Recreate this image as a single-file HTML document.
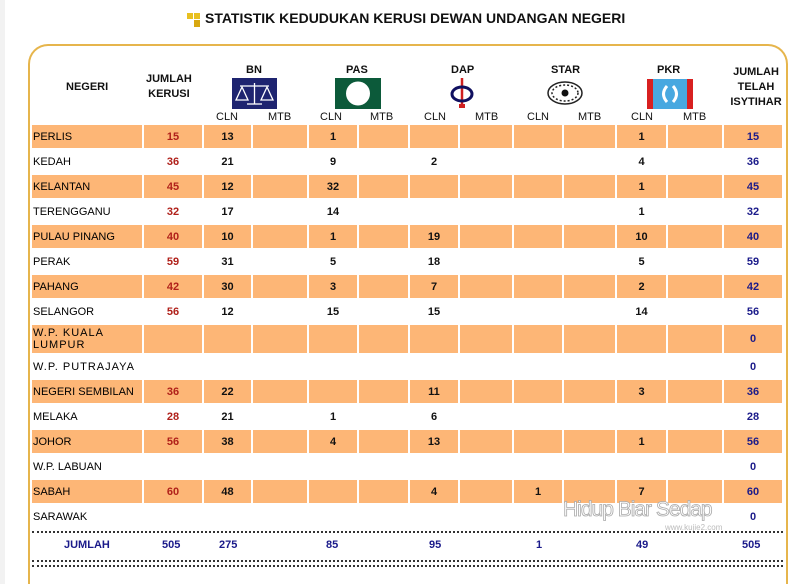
<!DOCTYPE html>
<html style="overflow:hidden;width:800px;height:584px"><head><meta charset="utf-8"><style>
html,body{margin:0;width:800px;height:584px;overflow:hidden;}
body{background:#fff;position:relative;font-family:"Liberation Sans",Arial,sans-serif;}
.box{position:absolute;left:28px;top:44px;width:756px;height:538px;border:2px solid #E6B54C;border-bottom:none;border-radius:20px 20px 0 0;}
.title{position:absolute;left:205px;top:10px;font-size:14px;font-weight:bold;color:#111;}
.h{position:absolute;font-size:11px;font-weight:bold;color:#111;text-align:center;line-height:15px;}
.s{position:absolute;font-size:11px;color:#111;top:111px;}
table{position:absolute;left:30px;top:123px;border-collapse:separate;border-spacing:2px 2px;table-layout:fixed;}
td{height:23px;padding:0;font-size:11px;font-weight:bold;text-align:center;color:#111;line-height:12px;}
td:first-child{text-align:left;padding-left:1px;font-weight:normal;color:#000;}
tr.o td{background:#FDB676;}
td.r{color:#B0201A;}
td.b{color:#1A1A8A;}
.dot{position:absolute;left:32px;width:751px;height:0;border-top:2px dotted #333;}
.tot{position:absolute;top:539px;font-size:11px;font-weight:bold;color:#1A1A8A;}
</style></head><body>
<div style="position:absolute;left:0;top:0;width:5px;height:584px;background:#f2f2f2"></div>
<div style="position:absolute;left:187px;top:13px;width:6px;height:6px;background:#E8C020"></div>
<div style="position:absolute;left:194px;top:13px;width:6px;height:6px;background:#E8C020"></div>
<div style="position:absolute;left:194px;top:20px;width:6px;height:7px;background:#D8A810"></div>
<div class="title">STATISTIK KEDUDUKAN KERUSI DEWAN UNDANGAN NEGERI</div>
<div class="box"></div>

<div class="h" style="left:66px;top:80px">NEGERI</div>
<div class="h" style="left:146px;top:72px">JUMLAH<br>KERUSI</div>
<div class="h" style="left:246px;top:63px">BN</div>
<div class="h" style="left:346px;top:63px">PAS</div>
<div class="h" style="left:451px;top:63px">DAP</div>
<div class="h" style="left:551px;top:63px">STAR</div>
<div class="h" style="left:657px;top:63px">PKR</div>
<div class="h" style="left:727px;top:65px;width:58px">JUMLAH<br>TELAH<br>ISYTIHAR</div>

<svg style="position:absolute;left:232px;top:78px" width="45" height="31"><rect width="45" height="31" fill="#1E2470"/><g stroke="#fff" stroke-width="1.3" fill="none"><line x1="8" y1="8" x2="37" y2="8"/><line x1="22.5" y1="5" x2="22.5" y2="26"/><polygon points="10,9 4,22 16,22"/><polygon points="35,9 29,22 41,22"/><line x1="15" y1="26" x2="30" y2="26"/></g></svg>
<svg style="position:absolute;left:335px;top:78px" width="46" height="31"><rect width="46" height="31" fill="#0C5A3A"/><circle cx="23" cy="15.5" r="12" fill="#fff"/></svg>
<svg style="position:absolute;left:448px;top:78px" width="28" height="32"><line x1="14" y1="0" x2="14" y2="30" stroke="#D02020" stroke-width="2.5"/><ellipse cx="14" cy="16" rx="10" ry="7" fill="none" stroke="#101060" stroke-width="3"/><rect x="11" y="26" width="6" height="4" fill="#D02020"/></svg>
<svg style="position:absolute;left:547px;top:81px" width="36" height="24"><ellipse cx="18" cy="12" rx="17" ry="11" fill="#fff" stroke="#222" stroke-width="1.5"/><ellipse cx="18" cy="12" rx="13" ry="8" fill="none" stroke="#222" stroke-width="1.5" stroke-dasharray="2,2"/><circle cx="18" cy="12" r="3.5" fill="#111"/></svg>
<svg style="position:absolute;left:647px;top:79px" width="46" height="30"><rect width="46" height="30" fill="#48A8E0"/><rect width="6" height="30" fill="#D82020"/><rect x="40" width="6" height="30" fill="#D82020"/><path d="M20 7 Q13 15 20 23" stroke="#fff" stroke-width="3" fill="none"/><path d="M26 7 Q33 15 26 23" stroke="#fff" stroke-width="3" fill="none"/></svg>

<div class="s" style="left:216px">CLN</div><div class="s" style="left:268px">MTB</div>
<div class="s" style="left:320px">CLN</div><div class="s" style="left:370px">MTB</div>
<div class="s" style="left:424px">CLN</div><div class="s" style="left:475px">MTB</div>
<div class="s" style="left:527px">CLN</div><div class="s" style="left:578px">MTB</div>
<div class="s" style="left:631px">CLN</div><div class="s" style="left:683px">MTB</div>

<table>
<colgroup><col style="width:110px"><col style="width:58px"><col style="width:47px"><col style="width:54px"><col style="width:48px"><col style="width:49px"><col style="width:48px"><col style="width:52px"><col style="width:48px"><col style="width:51px"><col style="width:49px"><col style="width:54px"><col style="width:58px"></colgroup>
<tr class="o"><td>PERLIS</td><td class="r">15</td><td>13</td><td></td><td>1</td><td></td><td></td><td></td><td></td><td></td><td>1</td><td></td><td class="b">15</td></tr>
<tr><td>KEDAH</td><td class="r">36</td><td>21</td><td></td><td>9</td><td></td><td>2</td><td></td><td></td><td></td><td>4</td><td></td><td class="b">36</td></tr>
<tr class="o"><td>KELANTAN</td><td class="r">45</td><td>12</td><td></td><td>32</td><td></td><td></td><td></td><td></td><td></td><td>1</td><td></td><td class="b">45</td></tr>
<tr><td>TERENGGANU</td><td class="r">32</td><td>17</td><td></td><td>14</td><td></td><td></td><td></td><td></td><td></td><td>1</td><td></td><td class="b">32</td></tr>
<tr class="o"><td>PULAU PINANG</td><td class="r">40</td><td>10</td><td></td><td>1</td><td></td><td>19</td><td></td><td></td><td></td><td>10</td><td></td><td class="b">40</td></tr>
<tr><td>PERAK</td><td class="r">59</td><td>31</td><td></td><td>5</td><td></td><td>18</td><td></td><td></td><td></td><td>5</td><td></td><td class="b">59</td></tr>
<tr class="o"><td>PAHANG</td><td class="r">42</td><td>30</td><td></td><td>3</td><td></td><td>7</td><td></td><td></td><td></td><td>2</td><td></td><td class="b">42</td></tr>
<tr><td>SELANGOR</td><td class="r">56</td><td>12</td><td></td><td>15</td><td></td><td>15</td><td></td><td></td><td></td><td>14</td><td></td><td class="b">56</td></tr>
<tr class="o"><td style="height:28px;letter-spacing:1px">W.P. KUALA LUMPUR</td><td></td><td></td><td></td><td></td><td></td><td></td><td></td><td></td><td></td><td></td><td></td><td class="b">0</td></tr>
<tr><td style="letter-spacing:1px">W.P. PUTRAJAYA</td><td></td><td></td><td></td><td></td><td></td><td></td><td></td><td></td><td></td><td></td><td></td><td class="b">0</td></tr>
<tr class="o"><td>NEGERI SEMBILAN</td><td class="r">36</td><td>22</td><td></td><td></td><td></td><td>11</td><td></td><td></td><td></td><td>3</td><td></td><td class="b">36</td></tr>
<tr><td>MELAKA</td><td class="r">28</td><td>21</td><td></td><td>1</td><td></td><td>6</td><td></td><td></td><td></td><td></td><td></td><td class="b">28</td></tr>
<tr class="o"><td>JOHOR</td><td class="r">56</td><td>38</td><td></td><td>4</td><td></td><td>13</td><td></td><td></td><td></td><td>1</td><td></td><td class="b">56</td></tr>
<tr><td>W.P. LABUAN</td><td></td><td></td><td></td><td></td><td></td><td></td><td></td><td></td><td></td><td></td><td></td><td class="b">0</td></tr>
<tr class="o"><td>SABAH</td><td class="r">60</td><td>48</td><td></td><td></td><td></td><td>4</td><td></td><td>1</td><td></td><td>7</td><td></td><td class="b">60</td></tr>
<tr><td>SARAWAK</td><td></td><td></td><td></td><td></td><td></td><td></td><td></td><td></td><td></td><td></td><td></td><td class="b">0</td></tr>
</table>

<div style="position:absolute;left:563px;top:498px;font-size:21px;color:#fff;-webkit-text-stroke:0.8px #aaa;letter-spacing:-1px">Hidup Biar Sedap</div>
<div style="position:absolute;left:665px;top:523px;font-size:8px;color:#bbb">www.kujie2.com</div>

<div class="dot" style="top:531px"></div>
<div class="tot" style="left:64px">JUMLAH</div>
<div class="tot" style="left:162px">505</div>
<div class="tot" style="left:219px">275</div>
<div class="tot" style="left:326px">85</div>
<div class="tot" style="left:429px">95</div>
<div class="tot" style="left:536px">1</div>
<div class="tot" style="left:636px">49</div>
<div class="tot" style="left:742px">505</div>
<div class="dot" style="top:560px"></div>
<div class="dot" style="top:565px"></div>
</body></html>
